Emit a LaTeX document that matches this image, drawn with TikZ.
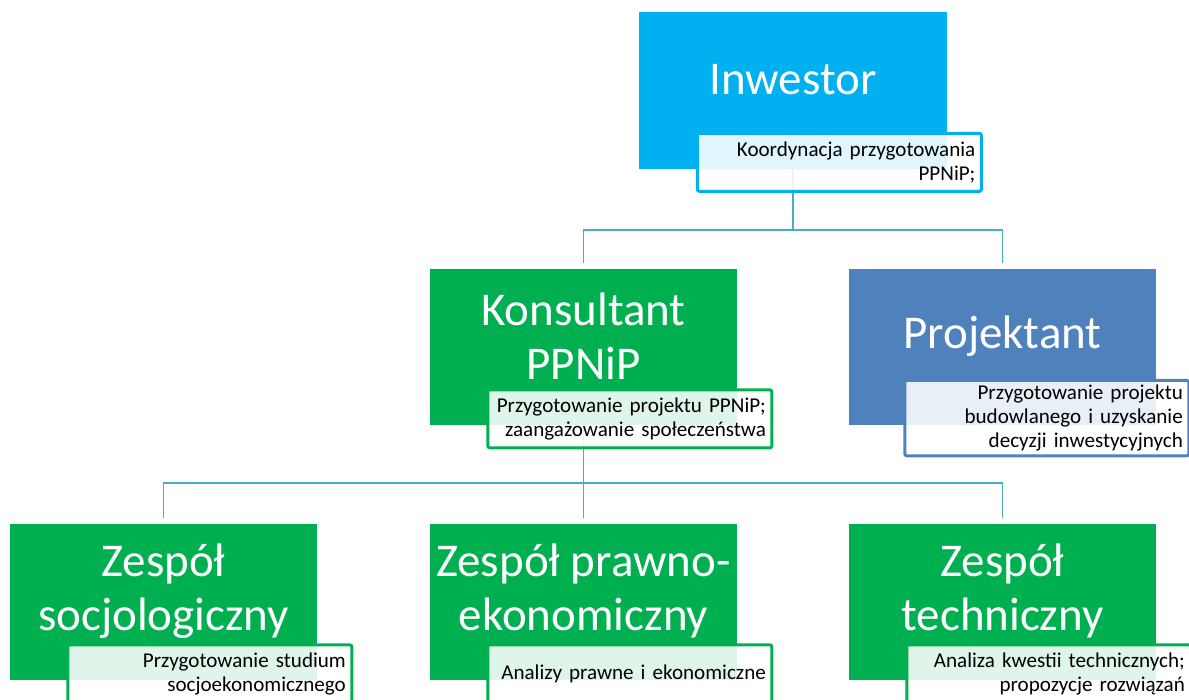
\documentclass[tikz,border=0pt]{standalone}
\usepackage{fontspec}
\setmainfont{Carlito}

\definecolor{inwblue}{HTML}{00B0F0}
\definecolor{teamgreen}{HTML}{00B050}
\definecolor{projblue}{HTML}{4F81BD}
\definecolor{linkblue}{HTML}{4BACC6}

\begin{document}
\begin{tikzpicture}[x=0.025cm,y=-0.025cm,
	box/.style={rectangle,fill=#1,minimum width=7.675cm,minimum height=3.9cm,inner sep=0pt},
	head/.style={text=white,align=center,font=\fontsize{33.4}{38.5}\selectfont,yshift=0.27cm},
	desc/.style={rectangle,draw=#1,line width=2.1pt,rounded corners=1.5pt,fill=white,fill opacity=0.88,text opacity=1,
		text width=6.8cm,align=right,inner xsep=0.15cm,minimum height=1.45cm,font=\fontsize{15}{17}\selectfont,anchor=south east},
	link/.style={draw=linkblue,line width=1.4pt,shorten >=0.15cm}]
	\useasboundingbox (0,0) rectangle (1189,699);
	\clip (0,0) rectangle (1189,699);

	\node[box=inwblue,label={[head]center:Inwestor}] (I) at (793,90.5) {};
	\node[box=teamgreen,label={[head]center:Konsultant\\PPNiP}] (K) at (583.5,347) {};
	\node[box=projblue,label={[head]center:Projektant}] (P) at (1002.5,347) {};
	\node[box=teamgreen,label={[head]center:Zespół\\socjologiczny}] (Z1) at (163.5,602) {};
	\node[box=teamgreen,label={[head]center:Zespół prawno-\\ekonomiczny}] (Z2) at (583.5,602) {};
	\node[box=teamgreen,label={[head]center:Zespół\\techniczny}] (Z3) at (1002.5,602) {};

	% connectors
	\draw[link] (I.south) -- ++(0,61) -| (K.north);
	\draw[link] (I.south) -- ++(0,61) -| (P.north);
	\draw[link] (K.south) -- ++(0,58) -| (Z1.north);
	\draw[link] (K.south) -- ++(0,58) -| (Z2.north);
	\draw[link] (K.south) -- ++(0,58) -| (Z3.north);

	% descriptions
	\node[desc=inwblue] (dI) at ([xshift=0.9cm,yshift=-0.6cm]I.south east) {Koordynacja przygotowania\\PPNiP;};
	\node[desc=teamgreen] (dK) at ([xshift=0.9cm,yshift=-0.6cm]K.south east) {Przygotowanie projektu PPNiP;\\zaangażowanie społeczeństwa};
	\node[desc=projblue,minimum height=1.85cm] (dP) at ([xshift=0.85cm,yshift=-0.8cm]P.south east) {Przygotowanie projektu\\budowlanego i uzyskanie\\decyzji inwestycyjnych};
	\node[desc=teamgreen] (dZ1) at ([xshift=0.9cm,yshift=-0.6cm]Z1.south east) {Przygotowanie studium\\socjoekonomicznego};
	\node[desc=teamgreen] (dZ2) at ([xshift=0.9cm,yshift=-0.6cm]Z2.south east) {Analizy prawne i ekonomiczne};
	\node[desc=teamgreen] (dZ3) at ([xshift=0.9cm,yshift=-0.6cm]Z3.south east) {Analiza kwestii technicznych;\\propozycje rozwiązań};
\end{tikzpicture}
\end{document}
